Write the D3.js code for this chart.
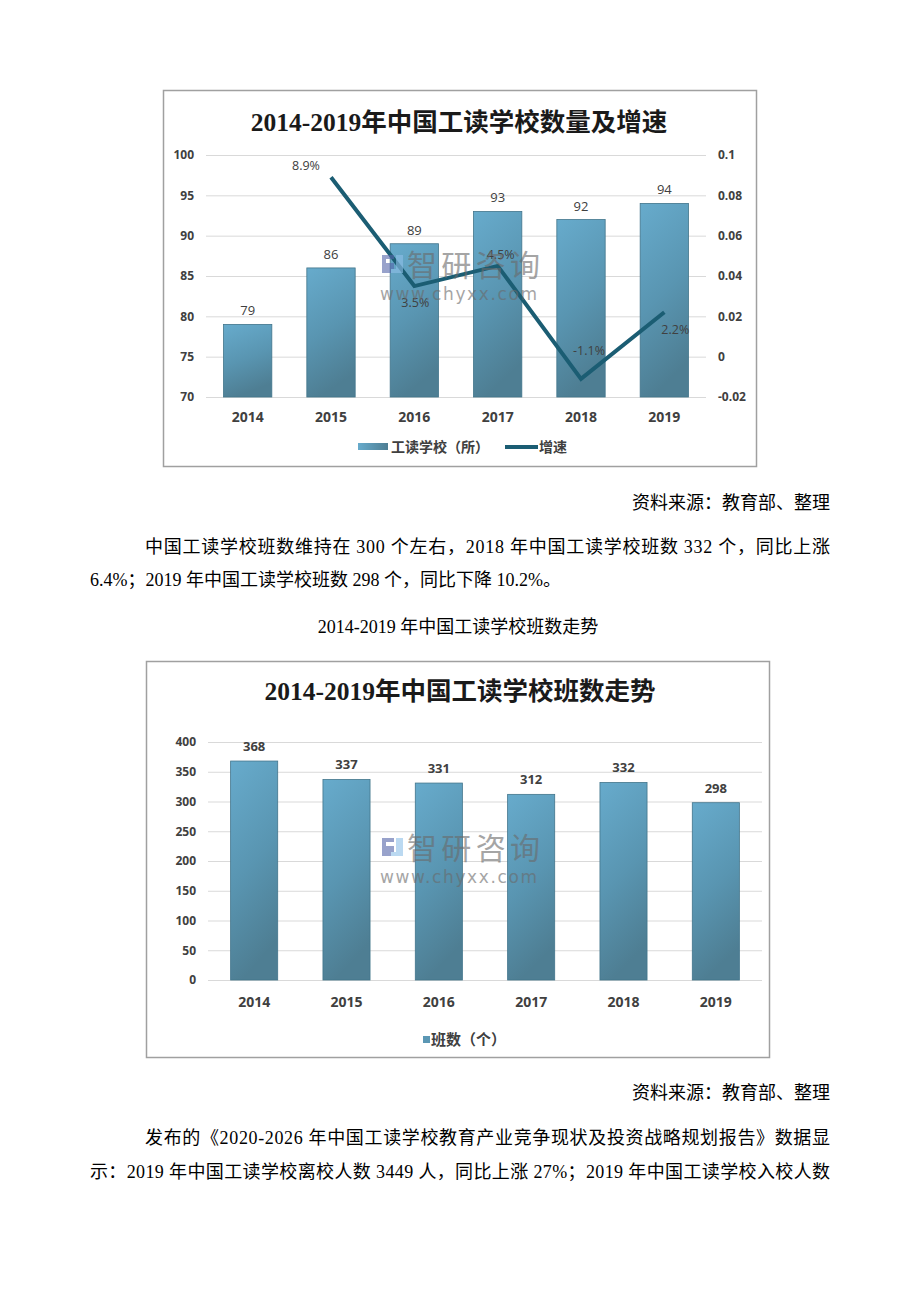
<!DOCTYPE html>
<html><head><meta charset="utf-8">
<script src="https://cdn.jsdelivr.net/npm/d3@7/dist/d3.min.js"></script>
<style>
html,body{margin:0;padding:0;background:#fff;}
svg{display:block;}
.body{font-family:"Liberation Serif","Noto Sans CJK SC",serif;font-size:18px;fill:#000;}
</style></head>
<body>
<svg id="page" width="920" height="1302"></svg>
<script>
// ---------- data ----------
const years = ["2014","2015","2016","2017","2018","2019"];
const schools = [79, 86, 89, 93, 92, 94];
const growth = [null, 0.089, 0.035, 0.045, -0.011, 0.022];
const classes = [368, 337, 331, 312, 332, 298];
const leftTicks1 = [70, 75, 80, 85, 90, 95, 100];
const rightTicks1 = [-0.02, 0, 0.02, 0.04, 0.06, 0.08, 0.1];
const ticks2 = [0, 50, 100, 150, 200, 250, 300, 350, 400];
const title1 = "2014-2019年中国工读学校数量及增速";
const title2 = "2014-2019年中国工读学校班数走势";
const legend1 = ["工读学校（所）", "增速"];
const legend2 = "班数（个）";

const svg = d3.select("#page");
svg.append("rect").attr("width",920).attr("height",1302).attr("fill","#fff");

const defs = svg.append("defs");
const g1 = defs.append("linearGradient").attr("id","barGrad").attr("x1",0).attr("y1",0).attr("x2",0.25).attr("y2",1);
g1.append("stop").attr("offset",0).attr("stop-color","#67abcc");
g1.append("stop").attr("offset",0.55).attr("stop-color","#5995b1");
g1.append("stop").attr("offset",1).attr("stop-color","#4e7e93");
const g2 = defs.append("linearGradient").attr("id","legGrad").attr("x1",0).attr("y1",0).attr("x2",1).attr("y2",0);
g2.append("stop").attr("offset",0).attr("stop-color","#67abcc");
g2.append("stop").attr("offset",1).attr("stop-color","#4e7e93");

const axisFont = '"Open Sans","Noto Sans CJK SC",sans-serif';
const LINE = "#1b5d73";

function watermark(cy){
  const w = svg.append("g").attr("opacity",0.6);
  w.append("path").attr("d",`M382,${cy-10}h12v4h-8v4h8v10h-12z`).attr("fill","#5566aa");
  w.append("path").attr("d",`M396,${cy-10}h7v18h-12v-4h5z`).attr("fill","#8fc0e8");
  w.append("text").attr("x",407).attr("y",cy+11).attr("font-family",'"Noto Sans CJK SC",sans-serif')
   .attr("font-size",30).attr("textLength",133).attr("lengthAdjust","spacing").attr("fill","#6a6a6a").text("智研咨询");
  w.append("text").attr("x",380).attr("y",cy+35).attr("font-family",'"DejaVu Sans",sans-serif')
   .attr("font-size",17).attr("textLength",157).attr("lengthAdjust","spacing").attr("fill","#6a6a6a").text("www.chyxx.com");
}

function styleAxis(g){
  g.select(".domain").remove();
  g.selectAll("text").attr("font-family",axisFont).attr("font-weight","bold").attr("fill","#404040");
}

// ================= Chart 1 =================
svg.append("rect").attr("x",163.5).attr("y",90.5).attr("width",593).attr("height",376)
  .attr("fill","#fff").attr("stroke","#a0a0a0").attr("stroke-width",1.5);
svg.append("text").attr("x",459).attr("y",131).attr("text-anchor","middle")
  .attr("font-family",'"Liberation Serif","Noto Sans CJK SC",serif').attr("font-weight","bold")
  .attr("font-size",25.5).attr("fill","#1a1a1a").text(title1);

const x1 = d3.scaleBand().domain(years).range([206,706]).paddingInner(0.42).paddingOuter(0.21);
const y1 = d3.scaleLinear().domain([70,100]).range([397,155]);
const yR = d3.scaleLinear().domain([-0.02,0.1]).range([397,155]);

const gl1 = svg.append("g").attr("transform","translate(206,0)")
  .call(d3.axisLeft(y1).tickValues(leftTicks1).tickSize(-500).tickPadding(12));
styleAxis(gl1);
gl1.selectAll("line").attr("stroke","#d9d9d9");
gl1.selectAll("text").attr("font-size",12);

const gr1 = svg.append("g").attr("transform","translate(706,0)")
  .call(d3.axisRight(yR).tickValues(rightTicks1).tickSize(0).tickPadding(12).tickFormat(d=>String(d)));
styleAxis(gr1);
gr1.selectAll("text").attr("font-size",12);

svg.selectAll(".bar1").data(years).enter().append("rect")
  .attr("x",d=>x1(d)).attr("width",x1.bandwidth())
  .attr("y",(d,i)=>y1(schools[i])).attr("height",(d,i)=>y1(70)-y1(schools[i]))
  .attr("fill","url(#barGrad)").attr("stroke","#42758b").attr("stroke-width",0.8);

svg.selectAll(".lab1").data(years).enter().append("text")
  .attr("x",d=>x1(d)+x1.bandwidth()/2).attr("y",(d,i)=>y1(schools[i])-9)
  .attr("text-anchor","middle").attr("font-family",axisFont).attr("font-size",13).attr("fill","#404040")
  .text((d,i)=>schools[i]);

const gx1 = svg.append("g").attr("transform","translate(0,397)")
  .call(d3.axisBottom(x1).tickSize(0).tickPadding(15));
styleAxis(gx1);
gx1.selectAll("text").attr("font-size",14);

const lineGen = d3.line().defined(d=>d.v!=null)
  .x(d=>x1(d.k)+x1.bandwidth()/2).y(d=>yR(d.v));
const lineData = years.map((k,i)=>({k, v:growth[i]}));
svg.append("path").datum(lineData).attr("d",lineGen).attr("fill","none")
  .attr("stroke",LINE).attr("stroke-width",4).attr("stroke-linejoin","miter");

// growth label placement (offsets from point)
const gOff = [[0,0],[-25,-7],[1,21],[3,-7],[8,-24],[11,22]];
svg.selectAll(".glab").data(lineData.filter(d=>d.v!=null)).enter().append("text")
  .attr("x",d=>x1(d.k)+x1.bandwidth()/2+gOff[years.indexOf(d.k)][0])
  .attr("y",d=>yR(d.v)+gOff[years.indexOf(d.k)][1])
  .attr("text-anchor","middle").attr("font-family",axisFont).attr("font-size",12.5).attr("fill","#404040")
  .text(d=>(d.v*100).toFixed(1)+"%");

watermark(265);

// legend 1
svg.append("rect").attr("x",358).attr("y",443).attr("width",30).attr("height",7).attr("fill","url(#legGrad)");
svg.append("text").attr("x",391).attr("y",452).attr("font-family",'"Noto Sans CJK SC",sans-serif')
  .attr("font-weight","bold").attr("font-size",14).attr("fill","#404040").text(legend1[0]);
svg.append("line").attr("x1",505).attr("x2",538).attr("y1",447).attr("y2",447).attr("stroke",LINE).attr("stroke-width",4);
svg.append("text").attr("x",539).attr("y",452).attr("font-family",'"Noto Sans CJK SC",sans-serif')
  .attr("font-weight","bold").attr("font-size",14).attr("fill","#404040").text(legend1[1]);

// ================= Text =================
function txt(x,y,s,anchor,len){
  const t = svg.append("text").attr("class","body").attr("x",x).attr("y",y).attr("text-anchor",anchor||"start").text(s);
  if(len) t.attr("textLength",len).attr("lengthAdjust","spacing");
  return t;
}
txt(830,509,"资料来源：教育部、整理","end");
txt(145,553,"中国工读学校班数维持在 300 个左右，2018 年中国工读学校班数 332 个，同比上涨",null,685);
txt(90,586,"6.4%；2019 年中国工读学校班数 298 个，同比下降 10.2%。");
txt(458,633,"2014-2019 年中国工读学校班数走势","middle");
txt(830,1099,"资料来源：教育部、整理","end");
txt(145,1144,"发布的《2020-2026 年中国工读学校教育产业竞争现状及投资战略规划报告》数据显",null,685);
txt(90,1178,"示：2019 年中国工读学校离校人数 3449 人，同比上涨 27%；2019 年中国工读学校入校人数",null,740);

// ================= Chart 2 =================
svg.append("rect").attr("x",146.5).attr("y",661.5).attr("width",623).attr("height",396)
  .attr("fill","#fff").attr("stroke","#a0a0a0").attr("stroke-width",1.5);
svg.append("text").attr("x",460).attr("y",700).attr("text-anchor","middle")
  .attr("font-family",'"Liberation Serif","Noto Sans CJK SC",serif').attr("font-weight","bold")
  .attr("font-size",25.5).attr("fill","#1a1a1a").text(title2);

const x2 = d3.scaleBand().domain(years).range([208,762]).paddingInner(0.49).paddingOuter(0.245);
const y2 = d3.scaleLinear().domain([0,400]).range([980,742]);

const gl2 = svg.append("g").attr("transform","translate(208,0)")
  .call(d3.axisLeft(y2).tickValues(ticks2).tickSize(-554).tickPadding(12));
styleAxis(gl2);
gl2.selectAll("line").attr("stroke","#d9d9d9");
gl2.selectAll("text").attr("font-size",12);

svg.selectAll(".bar2").data(years).enter().append("rect")
  .attr("x",d=>x2(d)).attr("width",x2.bandwidth())
  .attr("y",(d,i)=>y2(classes[i])).attr("height",(d,i)=>y2(0)-y2(classes[i]))
  .attr("fill","url(#barGrad)").attr("stroke","#42758b").attr("stroke-width",0.8);

svg.selectAll(".lab2").data(years).enter().append("text")
  .attr("x",d=>x2(d)+x2.bandwidth()/2).attr("y",(d,i)=>y2(classes[i])-10)
  .attr("text-anchor","middle").attr("font-family",axisFont).attr("font-weight","bold")
  .attr("font-size",13).attr("fill","#404040").text((d,i)=>classes[i]);

const gx2 = svg.append("g").attr("transform","translate(0,980)")
  .call(d3.axisBottom(x2).tickSize(0).tickPadding(17));
styleAxis(gx2);
gx2.selectAll("text").attr("font-size",14);

watermark(848);

svg.append("rect").attr("x",423).attr("y",1036).attr("width",7).attr("height",7).attr("fill","#5b97b4");
svg.append("text").attr("x",431).attr("y",1045).attr("font-family",'"Noto Sans CJK SC",sans-serif')
  .attr("font-weight","bold").attr("font-size",15).attr("fill","#404040").text(legend2);
</script>
</body></html>
